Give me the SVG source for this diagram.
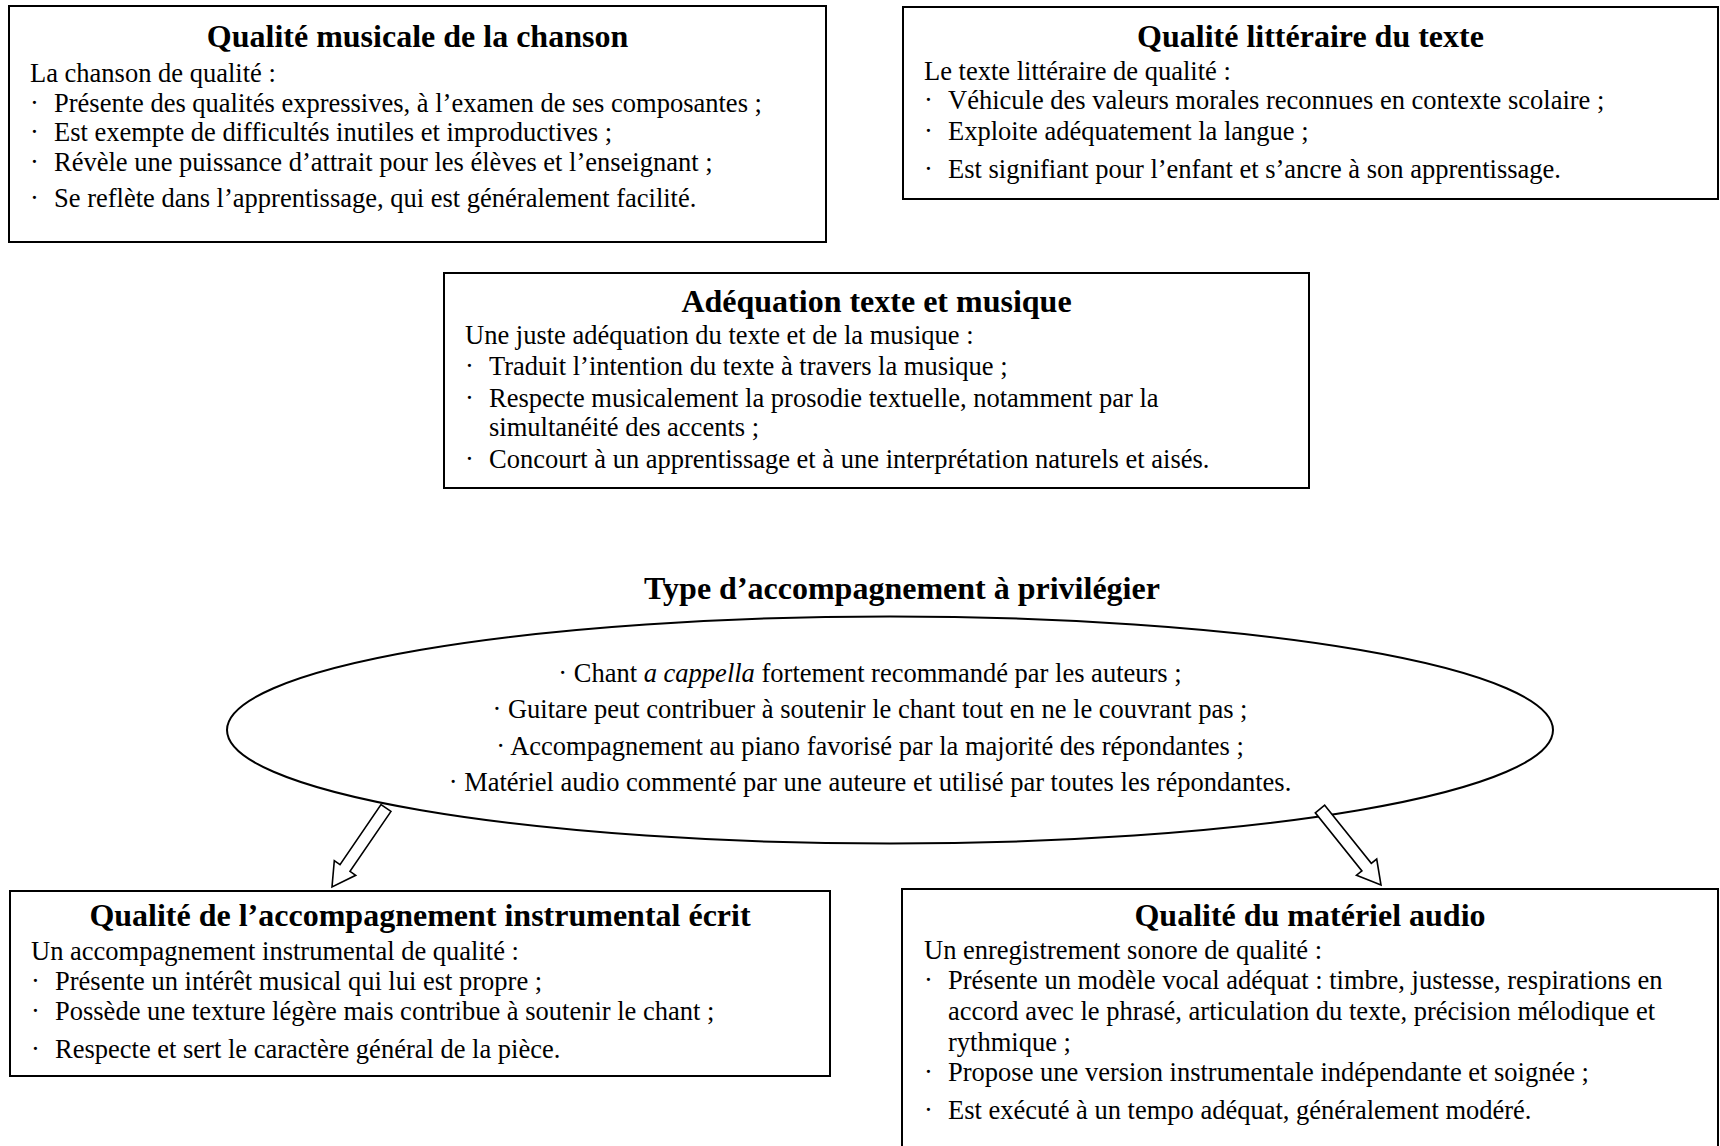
<svg xmlns="http://www.w3.org/2000/svg" width="1720" height="1146" viewBox="0 0 1720 1146">
<style>
.box{fill:#fff;stroke:#000;stroke-width:2}
.t{font-family:"Liberation Serif","Times New Roman",serif;font-size:32px;font-weight:bold;text-anchor:middle;fill:#000}
.b{font-family:"Liberation Serif","Times New Roman",serif;font-size:26.5px;fill:#000}
.c{font-family:"Liberation Serif","Times New Roman",serif;font-size:26.5px;fill:#000;text-anchor:middle}
.arr{fill:#fff;stroke:#000;stroke-width:1.6;stroke-linejoin:miter}
</style>
<rect width="1720" height="1146" fill="#fff"/>
<g id="musicale">
<rect class="box" x="9" y="6" width="817" height="236"/>
<text class="t" x="417.5" y="47">Qualité musicale de la chanson</text>
<text class="b" x="30" y="81.5">La chanson de qualité :</text>
<text class="b" x="30" y="111.5">·</text><text class="b" x="54" y="111.5">Présente des qualités expressives, à l’examen de ses composantes ;</text>
<text class="b" x="30" y="140.5">·</text><text class="b" x="54" y="140.5">Est exempte de difficultés inutiles et improductives ;</text>
<text class="b" x="30" y="170.5">·</text><text class="b" x="54" y="170.5">Révèle une puissance d’attrait pour les élèves et l’enseignant ;</text>
<text class="b" x="30" y="206.5">·</text><text class="b" x="54" y="206.5">Se reflète dans l’apprentissage, qui est généralement facilité.</text>
</g>
<g id="litteraire">
<rect class="box" x="903" y="7" width="815" height="192"/>
<text class="t" x="1310.5" y="47">Qualité littéraire du texte</text>
<text class="b" x="924" y="79.5">Le texte littéraire de qualité :</text>
<text class="b" x="924" y="108.5">·</text><text class="b" x="948" y="108.5">Véhicule des valeurs morales reconnues en contexte scolaire ;</text>
<text class="b" x="924" y="139.5">·</text><text class="b" x="948" y="139.5">Exploite adéquatement la langue ;</text>
<text class="b" x="924" y="177.5">·</text><text class="b" x="948" y="177.5">Est signifiant pour l’enfant et s’ancre à son apprentissage.</text>
</g>
<g id="adequation">
<rect class="box" x="444" y="273" width="865" height="215"/>
<text class="t" x="876.5" y="312">Adéquation texte et musique</text>
<text class="b" x="465" y="344">Une juste adéquation du texte et de la musique :</text>
<text class="b" x="465" y="375">·</text><text class="b" x="489" y="375">Traduit l’intention du texte à travers la musique ;</text>
<text class="b" x="465" y="407">·</text><text class="b" x="489" y="407">Respecte musicalement la prosodie textuelle, notamment par la</text>
<text class="b" x="489" y="436">simultanéité des accents ;</text>
<text class="b" x="465" y="468">·</text><text class="b" x="489" y="468">Concourt à un apprentissage et à une interprétation naturels et aisés.</text>
</g>
<g id="accompagnement">
<text class="t" x="902" y="599">Type d’accompagnement à privilégier</text>
<ellipse cx="890" cy="730" rx="663" ry="113.5" fill="#fff" stroke="#000" stroke-width="2"/>
<text class="c" x="870" y="682">· Chant <tspan font-style="italic">a cappella</tspan> fortement recommandé par les auteurs ;</text>
<text class="c" x="870" y="718">· Guitare peut contribuer à soutenir le chant tout en ne le couvrant pas ;</text>
<text class="c" x="870" y="755">· Accompagnement au piano favorisé par la majorité des répondantes ;</text>
<text class="c" x="870" y="791">· Matériel audio commenté par une auteure et utilisé par toutes les répondantes.</text>
</g>
<g id="connectors">
<polygon class="arr" points="391,811.4 350,871.4 355.7,875.3 332,887 334.3,860.7 340,864.6 381,804.6"/>
<polygon class="arr" points="1324.7,805.2 1371.3,863.3 1376.7,859 1381,885 1356.5,875.2 1361.9,870.9 1315.3,812.8"/>
</g>
<g id="instrumental">
<rect class="box" x="10" y="891" width="820" height="185"/>
<text class="t" x="420" y="926">Qualité de l’accompagnement instrumental écrit</text>
<text class="b" x="31" y="959.5">Un accompagnement instrumental de qualité :</text>
<text class="b" x="31" y="989.5">·</text><text class="b" x="55" y="989.5">Présente un intérêt musical qui lui est propre ;</text>
<text class="b" x="31" y="1019.5">·</text><text class="b" x="55" y="1019.5">Possède une texture légère mais contribue à soutenir le chant ;</text>
<text class="b" x="31" y="1057.5">·</text><text class="b" x="55" y="1057.5">Respecte et sert le caractère général de la pièce.</text>
</g>
<g id="audio">
<rect class="box" x="902" y="889" width="816" height="280"/>
<text class="t" x="1310" y="926">Qualité du matériel audio</text>
<text class="b" x="924" y="959">Un enregistrement sonore de qualité :</text>
<text class="b" x="924" y="989">·</text><text class="b" x="948" y="989">Présente un modèle vocal adéquat : timbre, justesse, respirations en</text>
<text class="b" x="948" y="1020">accord avec le phrasé, articulation du texte, précision mélodique et</text>
<text class="b" x="948" y="1051">rythmique ;</text>
<text class="b" x="924" y="1081">·</text><text class="b" x="948" y="1081">Propose une version instrumentale indépendante et soignée ;</text>
<text class="b" x="924" y="1119">·</text><text class="b" x="948" y="1119">Est exécuté à un tempo adéquat, généralement modéré.</text>
</g>
</svg>
